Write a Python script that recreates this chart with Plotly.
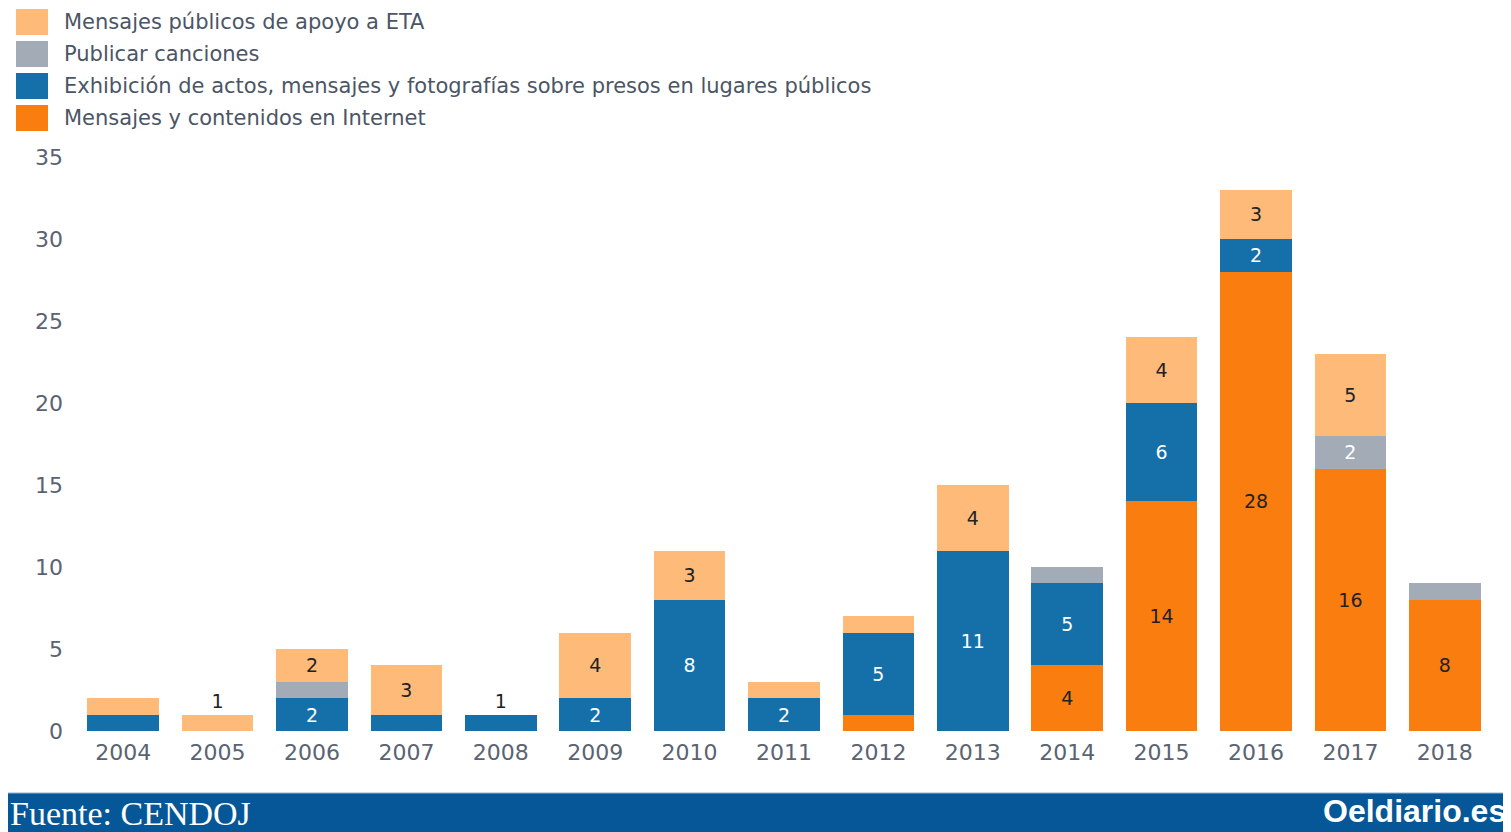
import plotly.graph_objects as go

years = ["2004", "2005", "2006", "2007", "2008", "2009", "2010", "2011",
         "2012", "2013", "2014", "2015", "2016", "2017", "2018"]

internet = [None, None, None, None, None, None, None, None, 1, None, 4, 14, 28, 16, 8]
exhibicion = [1, None, 2, 1, 1, 2, 8, 2, 5, 11, 5, 6, 2, None, None]
canciones = [None, None, 1, None, None, None, None, None, None, None, 1, None, None, 2, 1]
apoyo_eta = [1, 1, 2, 3, None, 4, 3, 1, 1, 4, None, 4, 3, 5, None]

series_names = [
    "Mensajes públicos de apoyo a ETA",
    "Publicar canciones",
    "Exhibición de actos, mensajes y fotografías sobre presos en lugares públicos",
    "Mensajes y contenidos en Internet",
]
series_colors = ["#FDBA78", "#A3ABB6", "#1570A9", "#FA7D0F"]
text_colors = ["#222222", "#ffffff", "#ffffff", "#222222"]

# figure geometry (pixels, figure coords; page has an 8px body margin)
W, H = 1503, 824
ML, MR, MT, MB = 68, 19, 149, 101
PW, PH = W - ML - MR, H - MT - MB


def px_x(px):
    return (px - ML) / PW


def px_y(py):
    return (H - MB - py) / PH


stacks = [internet, exhibicion, canciones, apoyo_eta]


def labels_for(vals):
    """Labels only on segments large enough; single-unit bars get an outside label."""
    texts, positions = [], []
    for i, v in enumerate(vals):
        total = sum((s[i] or 0) for s in stacks)
        if v is None:
            texts.append("")
            positions.append("inside")
        elif v >= 2:
            texts.append(str(v))
            positions.append("inside")
        elif total == 1:
            texts.append(str(v))
            positions.append("outside")
        else:
            texts.append("")
            positions.append("inside")
    return texts, positions


fig = go.Figure()
stack_order = [(internet, 3), (exhibicion, 2), (canciones, 1), (apoyo_eta, 0)]
for vals, k in stack_order:
    texts, positions = labels_for(vals)
    fig.add_trace(go.Bar(
        x=years, y=vals, name=series_names[k],
        marker=dict(color=series_colors[k], line=dict(width=0)),
        text=texts, textposition=positions,
        insidetextanchor="middle",
        insidetextfont=dict(color=text_colors[k], size=19, family="DejaVu Sans"),
        outsidetextfont=dict(color="#222222", size=19, family="DejaVu Sans"),
        textangle=0, cliponaxis=False,
        showlegend=False,
        hoverinfo="x+y+name",
    ))

shapes = []
annotations = []
# manual legend (large swatches)
row_centers = [14, 46, 78, 110]
for k, cy in enumerate(row_centers):
    shapes.append(dict(type="rect", xref="paper", yref="paper",
                       x0=px_x(8), x1=px_x(40), y0=px_y(cy + 13), y1=px_y(cy - 13),
                       fillcolor=series_colors[k], line=dict(width=0)))
    annotations.append(dict(xref="paper", yref="paper", x=px_x(54), y=px_y(cy),
                            xanchor="left", yanchor="middle", showarrow=False,
                            text=series_names[k],
                            font=dict(family="DejaVu Sans", size=21, color="#4b5566")))

# footer band
shapes.append(dict(type="rect", xref="paper", yref="paper",
                   x0=px_x(-10), x1=px_x(W + 10), y0=px_y(H + 10), y1=px_y(785),
                   fillcolor="#055797", line=dict(width=0), layer="below"))
shapes.append(dict(type="line", xref="paper", yref="paper",
                   x0=px_x(-10), x1=px_x(W + 10), y0=px_y(785), y1=px_y(785),
                   line=dict(color="#8fb3d3", width=1)))
annotations.append(dict(xref="paper", yref="paper", x=px_x(0), y=px_y(805),
                        xanchor="left", yanchor="middle", showarrow=False,
                        text="Fuente: CENDOJ",
                        font=dict(family="Liberation Serif", size=34, color="#ffffff")))
annotations.append(dict(xref="paper", yref="paper", x=px_x(1500), y=px_y(803),
                        xanchor="right", yanchor="middle", showarrow=False,
                        text="<b>Oeldiario.es</b>",
                        font=dict(family="Liberation Sans", size=32, color="#ffffff")))

fig.update_layout(
    width=W, height=H,
    margin=dict(l=ML, r=MR, t=MT, b=MB, pad=0),
    barmode="stack", bargap=0.24,
    plot_bgcolor="#ffffff", paper_bgcolor="#ffffff",
    showlegend=False,
    shapes=shapes, annotations=annotations,
    uniformtext=dict(mode=False),
    font=dict(family="DejaVu Sans", color="#5a6372"),
)
fig.update_xaxes(type="category", showgrid=False, showline=False, zeroline=False,
                 ticks="", tickfont=dict(size=22, color="#5a6372", family="DejaVu Sans"),
                 ticklabelstandoff=6)
fig.update_yaxes(range=[0, 35], tickvals=[0, 5, 10, 15, 20, 25, 30, 35],
                 showgrid=False, showline=False, zeroline=False, ticks="",
                 tickfont=dict(size=22, color="#5a6372", family="DejaVu Sans"),
                 ticklabelstandoff=12)

fig.write_html("out.html")
